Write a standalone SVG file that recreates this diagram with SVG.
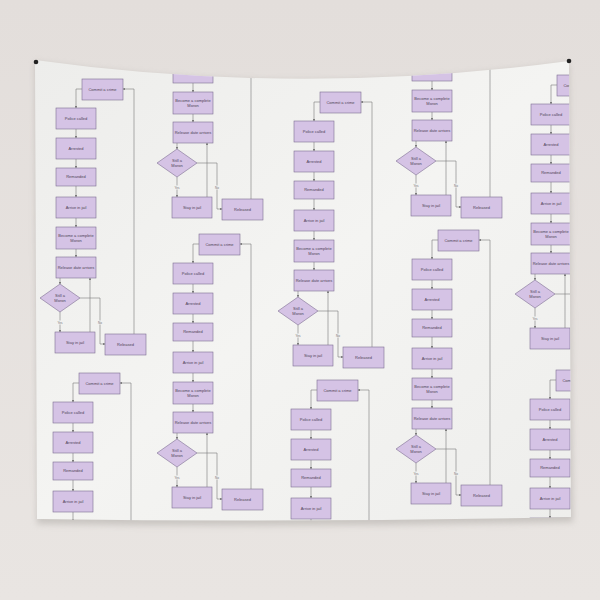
<svg xmlns="http://www.w3.org/2000/svg" xmlns:xlink="http://www.w3.org/1999/xlink" width="600" height="600" viewBox="0 0 600 600">
<style>
.box{fill:#d5c3e5;stroke:#7e6e92;stroke-width:0.6}
.t{font-family:"Liberation Sans",Arial,sans-serif;font-size:4px;fill:#4e4456;text-anchor:middle}
.lbl{font-family:"Liberation Sans",Arial,sans-serif;font-size:3px;fill:#707070;text-anchor:middle}
.c{fill:none;stroke:#7a7a7a;stroke-width:0.6}
</style>
<defs>
<linearGradient id="wall" x1="0" y1="0" x2="0" y2="1">
<stop offset="0" stop-color="#e3dedb"/>
<stop offset="1" stop-color="#e9e5e2"/>
</linearGradient>
<linearGradient id="cloth" x1="0" y1="0" x2="1" y2="1">
<stop offset="0" stop-color="#ededeb"/>
<stop offset="0.5" stop-color="#f4f4f2"/>
<stop offset="1" stop-color="#eeeeec"/>
</linearGradient>
<filter id="sh" x="-5%" y="-5%" width="110%" height="110%">
<feGaussianBlur stdDeviation="3"/>
</filter>
<marker id="ah" viewBox="0 0 6 6" refX="5" refY="3" markerWidth="4" markerHeight="4" orient="auto">
<path d="M0,0 L6,3 L0,6 Z" fill="#7a7a7a"/>
</marker>
<clipPath id="clothClip">
<path d="M35,60 Q300,97 569,61 L571,517 Q300,523 37,519 Z"/>
</clipPath>
<g id="chart">
<g id="connectors">
<path class="c" d="M0,10 H-6 V29" marker-end="url(#ah)"/>
<path class="c" d="M-6,50 V59" marker-end="url(#ah)"/>
<path class="c" d="M-6,80 V89" marker-end="url(#ah)"/>
<path class="c" d="M-6,107 V118" marker-end="url(#ah)"/>
<path class="c" d="M-6,139 V148" marker-end="url(#ah)"/>
<path class="c" d="M-6,170 V178" marker-end="url(#ah)"/>
<path class="c" d="M-22,199 V205" marker-end="url(#ah)"/>
<path class="c" d="M-22,233 V253" marker-end="url(#ah)"/>
<path class="c" d="M-2,219 H18 V265 H23" marker-end="url(#ah)"/>
<path class="c" d="M8,253 V199" marker-end="url(#ah)"/>
<path class="c" d="M52,255 V10 H41" marker-end="url(#ah)"/>
<rect x="-25" y="241.5" width="6" height="4" fill="#f2f2f0"/>
<text class="lbl" x="-22" y="244.5">Yes</text>
<rect x="15.5" y="241.5" width="5" height="4" fill="#f2f2f0"/>
<text class="lbl" x="18" y="244.5">No</text>
</g>
<g id="n-commit"><rect class="box" x="0" y="0" width="41" height="21"/><text class="t" x="20.5" y="11.5">Commit a crime</text></g>
<g id="n-police"><rect class="box" x="-26" y="29" width="40" height="21"/><text class="t" x="-6" y="40.5">Police called</text></g>
<g id="n-arrested"><rect class="box" x="-26" y="59" width="40" height="21"/><text class="t" x="-6" y="70.5">Arrested</text></g>
<g id="n-remanded"><rect class="box" x="-26" y="89" width="40" height="18"/><text class="t" x="-6" y="99">Remanded</text></g>
<g id="n-arrive"><rect class="box" x="-26" y="118" width="40" height="21"/><text class="t" x="-6" y="129.5">Arrive in jail</text></g>
<g id="n-become"><rect class="box" x="-26" y="148" width="40" height="22"/><text class="t" x="-6" y="157.5">Become a complete</text><text class="t" x="-6" y="163">Moron</text></g>
<g id="n-release"><rect class="box" x="-26" y="178" width="40" height="21"/><text class="t" x="-6" y="189.5">Release date arrives</text></g>
<g id="n-still"><path class="box" d="M-22,205 L-2,219 L-22,233 L-42,219 Z"/><text class="t" x="-22" y="218">Still a</text><text class="t" x="-22" y="223">Moron</text></g>
<g id="n-stay"><rect class="box" x="-27" y="253" width="40" height="21"/><text class="t" x="-7" y="264.5">Stay in jail</text></g>
<g id="n-released"><rect class="box" x="23" y="255" width="41" height="21"/><text class="t" x="43.5" y="266.5">Released</text></g>
</g>
</defs>
<rect x="0" y="0" width="600" height="600" fill="url(#wall)"/>
<path d="M35,62 Q300,99 569,63 L573,522 Q300,528 37,524 Z" fill="#b4b0ac" opacity="0.6" filter="url(#sh)"/>
<path d="M35,60 Q300,97 569,61 L571,517 Q300,523 37,519 Z" fill="url(#cloth)"/>
<g id="pattern" clip-path="url(#clothClip)">
<use xlink:href="#chart" href="#chart" x="82" y="79"/>
<use xlink:href="#chart" href="#chart" x="79" y="373"/>
<use xlink:href="#chart" href="#chart" x="199" y="-56"/>
<use xlink:href="#chart" href="#chart" x="199" y="234"/>
<use xlink:href="#chart" href="#chart" x="320" y="92"/>
<use xlink:href="#chart" href="#chart" x="317" y="380"/>
<use xlink:href="#chart" href="#chart" x="438" y="-58"/>
<use xlink:href="#chart" href="#chart" x="438" y="230"/>
<use xlink:href="#chart" href="#chart" x="557" y="75"/>
<use xlink:href="#chart" href="#chart" x="556" y="370"/>
</g>
<circle cx="36" cy="62" r="2.3" fill="#222"/>
<circle cx="569" cy="61" r="2.3" fill="#222"/>
</svg>
